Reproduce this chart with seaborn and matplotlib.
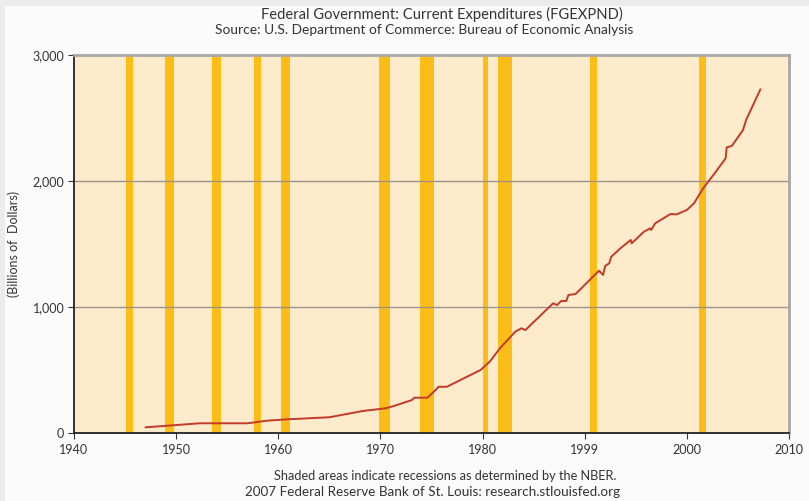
import numpy as np
import pandas as pd
import matplotlib
matplotlib.use('Agg')
import matplotlib.pyplot as plt
from matplotlib.patches import Rectangle
import seaborn as sns

# Federal government current expenditures, billions of dollars
years = [1947, 1950, 1952.3, 1957, 1958.9, 1961, 1965, 1968.3, 1970.5, 1971.3,
         1973.1, 1973.3, 1974.6, 1975.4, 1975.7, 1976.5, 1979.8, 1980.7, 1981.7,
         1983.2, 1983.8, 1984.2, 1984.7, 1986.9, 1987.3, 1987.7, 1988.2, 1988.4,
         1989.1, 1991.4, 1991.8, 1992.0, 1992.4, 1992.6, 1993.5, 1994.5, 1994.6,
         1995.8, 1996.4, 1996.5, 1996.9, 1998.4, 1999.0, 2000.0, 2000.7, 2001.6,
         2002.6, 2003.8, 2003.9, 2004.4, 2005.5, 2005.8, 2007.2]
spending = [45, 63, 77, 77, 98, 109, 125, 175, 196, 214,
            262, 280, 280, 341, 367, 367, 500, 566, 672,
            804, 831, 817, 857, 1029, 1016, 1048, 1048, 1095,
            1103, 1288, 1254, 1325, 1347, 1399, 1466, 1532, 1505,
            1598, 1624, 1611, 1664, 1738, 1735, 1770, 1823, 1942,
            2048, 2180, 2267, 2278, 2405, 2484, 2728]

# NBER recessions (start, end) as shaded on the chart
rec_start = [1945.1, 1948.9, 1953.5, 1957.6, 1960.3, 1969.9, 1973.9, 1980.0, 1981.5, 1990.5, 2001.2]
rec_end = [1945.8, 1949.8, 1954.4, 1958.3, 1961.1, 1970.9, 1975.2, 1980.5, 1982.9, 1991.2, 2001.9]

x_ticks = [1940, 1950, 1960, 1970, 1980, 1990, 2000, 2010]
x_labels = ['1940', '1950', '1960', '1970', '1980', '1999', '2000', '2010']
y_ticks = [0, 1000, 2000, 3000]
y_labels = ['0', '1,000', '2,000', '3,000']

df = pd.DataFrame({'year': years, 'value': spending})

sns.set_theme(style='white')
plt.rcParams['font.family'] = ['Lato', 'DejaVu Sans']

fig = plt.figure(figsize=(8.09, 5.01), dpi=100, facecolor='#ececec')
fig.patches.append(Rectangle((5 / 809, 0), 1, (501 - 6) / 501, transform=fig.transFigure,
                             facecolor='#fbfbfb', edgecolor='none', zorder=-5))
ax = fig.add_axes([74 / 809, (501 - 433) / 501, (789 - 74) / 809, (433 - 55) / 501])
ax.set_facecolor('#fdebcb')

for s, e in zip(rec_start, rec_end):
    ax.axvspan(s, e, color='#fbbd16', lw=0, zorder=1)

for yv in [1000, 2000]:
    ax.axhline(yv, color='#9e9485', lw=1.0, zorder=2)

sns.lineplot(data=df, x='year', y='value', ax=ax, color='#c33a28', lw=1.4, zorder=3)

ax.set_xlim(1940, 2010)
ax.set_ylim(0, 3000)
ax.set_xticks(x_ticks)
ax.set_xticklabels(x_labels)
ax.set_yticks(y_ticks)
ax.set_yticklabels(y_labels)
ax.tick_params(axis='both', which='major', direction='out', length=4, width=0.8,
               colors='#333333', labelsize=9, left=True, bottom=True, pad=3)
ax.tick_params(axis='x', pad=4)
ax.set_xlabel('')
ax.set_ylabel('(Billions of  Dollars)', fontsize=9, color='#333333', labelpad=9)

for side in ['left', 'bottom']:
    ax.spines[side].set_color('#222222')
    ax.spines[side].set_linewidth(1.3)
for side in ['top', 'right']:
    ax.spines[side].set_color('#a8a8a8')
    ax.spines[side].set_linewidth(2.0)

fig.text(442 / 809, 1 - 14 / 501, 'Federal Government: Current Expenditures (FGEXPND)',
         ha='center', va='center', fontsize=10.6, color='#333333')
fig.text(424 / 809, 1 - 30 / 501, 'Source: U.S. Department of Commerce: Bureau of Economic Analysis',
         ha='center', va='center', fontsize=9.9, color='#333333')
fig.text(445 / 809, 1 - 476 / 501, 'Shaded areas indicate recessions as determined by the NBER.',
         ha='center', va='center', fontsize=9.2, color='#333333')
fig.text(433 / 809, 1 - 492 / 501, '2007 Federal Reserve Bank of St. Louis: research.stlouisfed.org',
         ha='center', va='center', fontsize=9.7, color='#333333')

fig.savefig('out.png', dpi=100, facecolor=fig.get_facecolor())
